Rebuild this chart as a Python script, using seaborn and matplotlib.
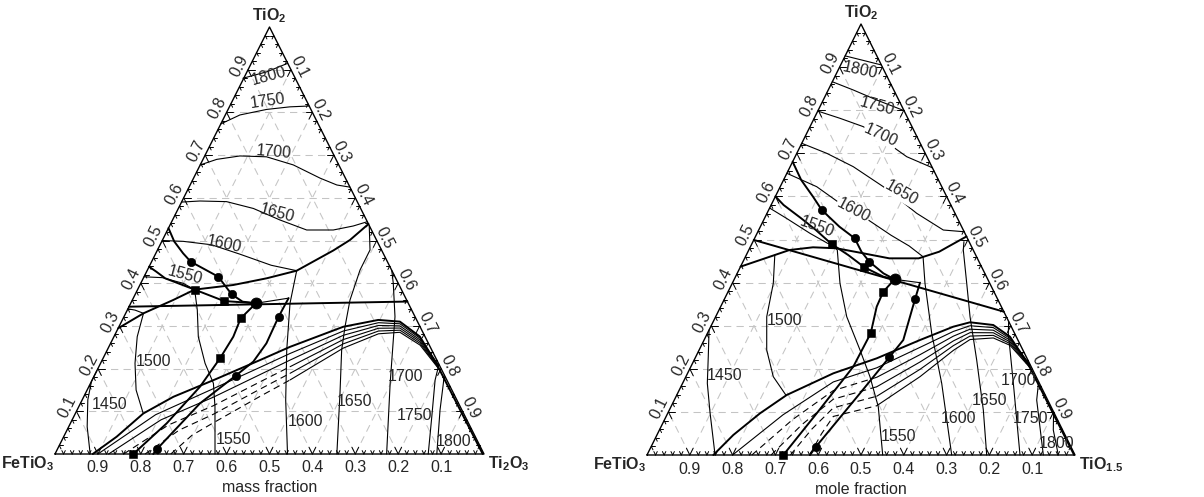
import numpy as np
import matplotlib
matplotlib.use("Agg")
import matplotlib.pyplot as plt
import seaborn as sns

# Compositions are given as (FeTiO3 fraction, TiO2 fraction); third component = rest.
# ---------------- LEFT: mass fraction FeTiO3 - Ti2O3 - TiO2 ----------------
m_1800 = [(0.122, 0.880), (0.059, 0.895), (0.0, 0.915)]
m_1750 = [(0.227, 0.773), (0.172, 0.794), (0.103, 0.807), (0.046, 0.813), (0.0, 0.815)]
m_1700 = [(0.323, 0.677), (0.278, 0.690), (0.220, 0.698), (0.159, 0.696), (0.106, 0.677),
          (0.059, 0.646), (0.028, 0.630), (0.0, 0.625)]
m_1650_up = [(0.41, 0.59), (0.366, 0.5925), (0.3045, 0.591), (0.25, 0.575), (0.2015, 0.548),
             (0.151, 0.5246), (0.089, 0.5246), (0.0377, 0.534), (0.0, 0.544)]
m_1600_up = [(0.5, 0.5), (0.452, 0.498), (0.39, 0.49), (0.335, 0.468), (0.275, 0.442), (0.222, 0.4293)]
m_1550_up = [(0.585, 0.415), (0.5435, 0.413), (0.5015, 0.3998), (0.482, 0.385)]
m_1550_low = [(0.482, 0.385), (0.4997, 0.3372), (0.5286, 0.2747), (0.544, 0.2124), (0.548, 0.1655),
              (0.5716, 0.111), (0.627, 0.0)]
m_1500 = [(0.629, 0.3295), (0.671, 0.2747), (0.7073, 0.2124), (0.736, 0.1499), (0.7465, 0.097)]
m_1450 = [(0.918, 0.0), (0.893, 0.064), (0.86, 0.127), (0.83, 0.17), (0.805, 0.195)]
m_1600_low = [(0.222, 0.4293), (0.2757, 0.353), (0.338, 0.2436), (0.399, 0.1265), (0.458, 0.0)]
m_1650_low = [(0.0, 0.535), (0.0268, 0.4778), (0.0735, 0.4309), (0.132, 0.3607), (0.175, 0.298),
              (0.21, 0.2436), (0.2647, 0.142), (0.343, 0.0)]
m_1700_low = [(0.0, 0.43), (0.0115, 0.40), (0.0467, 0.3216), (0.136, 0.1655), (0.227, 0.0)]
m_1750_low = [(0.0, 0.21), (0.0275, 0.173), (0.078, 0.0874), (0.13, 0.0)]
m_1800_low = [(0.0, 0.185), (0.012, 0.1655), (0.051, 0.103), (0.11, 0.0)]
m_boundary = [(0.7056, 0.2944), (0.629, 0.3295), (0.544, 0.3607), (0.482, 0.385), (0.3865, 0.3958),
              (0.3008, 0.4115), (0.222, 0.4293), (0.113, 0.4766), (0.0618, 0.5012), (0.0, 0.5386)]
m_straight = [(0.655, 0.345), (0.0, 0.357)]
m_short = [(0.66, 0.34), (0.645, 0.337), (0.629, 0.3295)]
m_L1 = [(0.471, 0.529), (0.4732, 0.4977), (0.4664, 0.47), (0.4585, 0.4504), (0.4117, 0.4152),
        (0.4013, 0.374), (0.3844, 0.3567), (0.355, 0.353)]
m_L2 = [(0.5613, 0.4387), (0.5504, 0.427), (0.5374, 0.4114), (0.482, 0.385), (0.427, 0.3583), (0.355, 0.353)]
m_sq_line = [(0.355, 0.353), (0.4082, 0.3178), (0.447, 0.2747), (0.5033, 0.2241), (0.5832, 0.1576),
             (0.7036, 0.0719), (0.8175, 0.0)]
m_apex_top = [(0.355, 0.353), (0.273, 0.365)]
m_apex_line = [(0.273, 0.365), (0.318, 0.3215), (0.3776, 0.2592), (0.4297, 0.2162), (0.4871, 0.1834),
               (0.6026, 0.1187), (0.7553, 0.0124), (0.771, 0.0)]
m_circles = [(0.4585, 0.4504), (0.4117, 0.4152), (0.4013, 0.374), (0.318, 0.3215), (0.4871, 0.1834), (0.7553, 0.0124)]
m_bigdot = [(0.355, 0.353)]
m_squares = [(0.482, 0.385), (0.427, 0.3583), (0.4082, 0.3178), (0.5033, 0.2241), (0.8175, 0.0)]
m_dome = [(0.912, 0.0), (0.836, 0.0405), (0.7465, 0.095), (0.657, 0.134), (0.544, 0.173), (0.412, 0.22),
          (0.3265, 0.251), (0.179, 0.298), (0.0895, 0.314), (0.041, 0.31), (0.012, 0.275), (0.005, 0.21),
          (0.004, 0.1), (0.003, 0.0)]
m_fan1 = [(0.9, 0.0), (0.7195, 0.092), (0.5545, 0.153), (0.4205, 0.203), (0.3342, 0.2355), (0.184, 0.288),
          (0.0922, 0.3075), (0.0435, 0.305), (0.0135, 0.271), (0.002, 0.208)]
m_fan2 = [(0.875, 0.0), (0.713, 0.08), (0.5645, 0.133), (0.429, 0.186), (0.342, 0.22), (0.189, 0.278),
          (0.0955, 0.301), (0.046, 0.30), (0.0155, 0.267), (0.003, 0.206)]
m_fan3 = [(0.84, 0.0), (0.7015, 0.068), (0.5745, 0.113), (0.4375, 0.169), (0.3497, 0.2045), (0.194, 0.268),
          (0.0987, 0.2945), (0.0485, 0.295), (0.0175, 0.263), (0.004, 0.204)]
m_fan4 = [(0.79, 0.0), (0.6825, 0.056), (0.5845, 0.093), (0.446, 0.152), (0.3575, 0.189), (0.199, 0.258),
          (0.102, 0.288), (0.051, 0.29), (0.0195, 0.259), (0.005, 0.202)]
m_fan5 = [(0.73, 0.0), (0.6585, 0.044), (0.5945, 0.073), (0.4545, 0.135), (0.3652, 0.1735), (0.204, 0.248),
          (0.1052, 0.2815), (0.0535, 0.285), (0.0215, 0.255), (0.006, 0.20)]
m_labels = ["1800", "1750", "1700", "1650", "1600", "1550", "1500", "1450",
            "1550", "1600", "1650", "1700", "1750", "1800"]
m_label_pos = [(0.0585, 0.884), (0.09, 0.827), (0.1355, 0.708), (0.2014, 0.5637), (0.36, 0.492),
               (0.487, 0.419), (0.6628, 0.2162), (0.8144, 0.1148), (0.568, 0.0328), (0.3794, 0.0756),
               (0.2395, 0.1225), (0.0936, 0.181), (0.116, 0.0897), (0.057, 0.0288)]
m_label_rot = [15, 8, -5, -15, -12, -15, 0, 0, 0, 0, 0, 0, 0, 0]

# ---------------- RIGHT: mole fraction FeTiO3 - TiO1.5 - TiO2 ----------------
r_1800 = [(0.074, 0.926), (0.035, 0.915), (0.0, 0.905)]
r_1750 = [(0.134, 0.866), (0.0946, 0.8469), (0.0515, 0.8237), (0.0, 0.799)]
r_1700 = [(0.202, 0.798), (0.1585, 0.7812), (0.1137, 0.7618), (0.0825, 0.7309), (0.0471, 0.6921),
          (0.0043, 0.6689), (0.0, 0.666)]
r_1650_up = [(0.2768, 0.7232), (0.2301, 0.70), (0.1835, 0.6689), (0.1366, 0.6225), (0.0895, 0.5608),
             (0.0467, 0.522), (0.0, 0.518)]
r_1600_up = [(0.3464, 0.6536), (0.2922, 0.6225), (0.2571, 0.584), (0.215, 0.55), (0.175, 0.51),
             (0.145, 0.485), (0.125, 0.46)]
r_1600_low = [(0.125, 0.46), (0.1513, 0.3984), (0.1936, 0.2824), (0.2283, 0.1663), (0.2881, 0.0)]
r_1650_low = [(0.012, 0.495), (0.0232, 0.4756), (0.0538, 0.3984), (0.0848, 0.3209), (0.1195, 0.2204),
              (0.162, 0.1044), (0.2063, 0.0)]
r_1700_low = [(0.0, 0.31), (0.0146, 0.2824), (0.0609, 0.1663), (0.1285, 0.0)]
r_1750_low = [(0.0, 0.17), (0.0257, 0.1276), (0.074, 0.0)]
r_1800_low = [(0.0, 0.1), (0.0217, 0.058), (0.039, 0.0)]
r_1550_up = [(0.427, 0.573), (0.3995, 0.5491), (0.362, 0.5143), (0.3324, 0.4911), (0.3241, 0.4896)]
r_1550_low = [(0.3241, 0.4896), (0.3176, 0.4756), (0.3499, 0.3984), (0.3729, 0.3209), (0.3805, 0.2436),
              (0.3882, 0.1817), (0.4036, 0.1121), (0.4493, 0.0)]
r_1500 = [(0.4694, 0.464), (0.5057, 0.3984), (0.5598, 0.3209), (0.5985, 0.2436), (0.6141, 0.1817), (0.606, 0.1392)]
r_1450 = [(0.71, 0.29), (0.7428, 0.2281), (0.7759, 0.1663), (0.8033, 0.099), (0.841, 0.0)]
r_boundary = [(0.563, 0.437), (0.4694, 0.464), (0.4293, 0.4756), (0.3712, 0.4819), (0.3174, 0.4796),
              (0.2676, 0.4694), (0.2057, 0.4563), (0.137, 0.4563), (0.0814, 0.4717), (0.0548, 0.4833), (0.0, 0.507)]
r_straight = [(0.501, 0.499), (0.0, 0.3325)]
r_L1 = [(0.3195, 0.6805), (0.3207, 0.638), (0.3124, 0.5993), (0.3074, 0.5684), (0.2856, 0.5297),
        (0.2633, 0.5028), (0.2631, 0.4717), (0.2563, 0.4485), (0.2369, 0.4215), (0.2177, 0.4076)]
r_L2 = [(0.4, 0.6), (0.3908, 0.58), (0.3651, 0.5491), (0.3444, 0.522), (0.3241, 0.4896), (0.2979, 0.464),
        (0.2743, 0.4355), (0.2408, 0.4137), (0.2177, 0.4076)]
r_sq_line = [(0.2177, 0.4076), (0.2585, 0.3789), (0.2913, 0.3441), (0.3361, 0.2824), (0.4156, 0.2049),
             (0.5551, 0.0967), (0.6815, 0.0)]
r_apex_top = [(0.2177, 0.4076), (0.1622, 0.3998)]
r_apex_line = [(0.1622, 0.3998), (0.1932, 0.3613), (0.2678, 0.2668), (0.3205, 0.2267), (0.4307, 0.1432),
               (0.5955, 0.0193), (0.6192, 0.0)]
r_circles = [(0.3074, 0.5684), (0.2633, 0.5028), (0.2563, 0.4485), (0.1932, 0.3613), (0.3205, 0.2267), (0.5955, 0.0193)]
r_bigdot = [(0.2177, 0.4076)]
r_squares = [(0.3241, 0.4896), (0.2743, 0.4355), (0.2585, 0.3789), (0.3361, 0.2824), (0.6815, 0.0)]
r_dome = [(0.845, 0.0), (0.7752, 0.0464), (0.6876, 0.0967), (0.604, 0.1392), (0.4699, 0.1895), (0.3511, 0.2243),
          (0.2287, 0.2668), (0.1355, 0.2977), (0.0913, 0.3079), (0.0401, 0.3016), (0.0147, 0.2745),
          (0.004, 0.2128), (0.003, 0.1), (0.002, 0.0)]
r_fan1 = [(0.8, 0.0), (0.6357, 0.0932), (0.48, 0.1695), (0.3621, 0.2023), (0.2372, 0.2498), (0.1409, 0.2867),
          (0.0953, 0.2999), (0.0431, 0.2956), (0.0166, 0.2705), (0.001, 0.2108)]
r_fan2 = [(0.755, 0.0), (0.6187, 0.0822), (0.4899, 0.1495), (0.3731, 0.1803), (0.2457, 0.2328), (0.1464, 0.2757),
          (0.0993, 0.2919), (0.0461, 0.2896), (0.0186, 0.2665), (0.001, 0.2088)]
r_fan3 = [(0.71, 0.0), (0.6017, 0.0712), (0.4999, 0.1295), (0.3841, 0.1583), (0.2542, 0.2158), (0.1519, 0.2647),
          (0.1033, 0.2839), (0.0491, 0.2836), (0.0206, 0.2625), (0.002, 0.2068)]
r_fan4 = [(0.665, 0.0), (0.5847, 0.0602), (0.5099, 0.1095), (0.3951, 0.1363), (0.2627, 0.1988), (0.1574, 0.2537),
          (0.1073, 0.2759), (0.0521, 0.2776), (0.0226, 0.2585), (0.003, 0.2048)]
r_fan5 = [(0.62, 0.0), (0.5677, 0.0492), (0.5199, 0.0895), (0.4061, 0.1143), (0.2712, 0.1818), (0.1629, 0.2427),
          (0.1113, 0.2679), (0.0551, 0.2716), (0.0246, 0.2545), (0.004, 0.2028)]
r_labels = ["1800", "1750", "1700", "1650", "1600", "1550", "1500", "1450",
            "1550", "1600", "1650", "1700", "1750", "1800"]
r_label_pos = [(0.0565, 0.8917), (0.059, 0.8082), (0.0821, 0.7425), (0.1013, 0.6072), (0.2338, 0.5684),
               (0.3386, 0.5297), (0.521, 0.3132), (0.725, 0.1856), (0.3916, 0.0425), (0.23, 0.0852),
               (0.1348, 0.1276), (0.0455, 0.174), (0.0625, 0.0852), (0.029, 0.0271)]
r_label_rot = [-12, -15, -25, -30, -28, -20, 0, 0, 0, 0, 0, 0, 0, 0]
r_label_box = [False, False, True, True, True, False, False, False, False, False, False, False, False, False]

tick_values = [0.1, 0.2, 0.3, 0.4, 0.5, 0.6, 0.7, 0.8, 0.9]
tick_labels = ["0.1", "0.2", "0.3", "0.4", "0.5", "0.6", "0.7", "0.8", "0.9"]

# ---------------- style ----------------
sns.set_theme(style="white")
plt.rcParams["font.family"] = ["Liberation Sans", "DejaVu Sans"]
plt.rcParams["mathtext.fontset"] = "custom"
plt.rcParams["mathtext.rm"] = "Liberation Sans"
plt.rcParams["mathtext.bf"] = "Liberation Sans:bold"
FS = 11.5
THIN, THICK = 0.8, 1.4


def tern(pts):
    a = np.array([p[0] for p in pts], float)
    c = np.array([p[1] for p in pts], float)
    return 1.0 - a - c / 2.0, c


def curve(ax, pts, lw=THIN, ls="-"):
    x, y = tern(pts)
    sns.lineplot(x=x, y=y, sort=False, estimator=None, color="black", lw=lw,
                 linestyle=ls, ax=ax, legend=False)


def fan(ax, pts, a_split):
    dashed = [p for p in pts if p[0] >= a_split]
    solid = [p for p in pts if p[0] <= a_split]
    if dashed:
        solid = [dashed[-1]] + solid
        curve(ax, dashed, lw=THIN, ls=(0, (6, 4)))
    curve(ax, solid, lw=THIN)


def frame(ax, rot):
    ax.set_xlim(0, 1)
    ax.set_ylim(0, 1)
    ax.axis("off")
    grid_kw = dict(color="#c4c4c4", lw=0.75, dashes=(7, 5), zorder=0)
    for v in tick_values:
        for seg in ([(1 - v, v), (0, v)], [(v, 0), (v, 1 - v)], [(1 - v, 0), (0, 1 - v)]):
            x, y = tern(seg)
            ax.plot(x, y, **grid_kw)
    for i in range(1, 50):
        t = i / 50
        L = 0.016 if i % 5 == 0 else 0.008
        segs = [[(t, 0), (t, L)], [(t, 0), (t - L, L)],
                [(1 - t, t), (1 - t - L, t)], [(1 - t, t), (1 - t, t - L)],
                [(0, 1 - t), (L, 1 - t)], [(0, 1 - t), (L, 1 - t - L)]]
        for seg in segs:
            x, y = tern(seg)
            ax.plot(x, y, color="black", lw=0.7, zorder=3)
    x, y = tern([(1, 0), (0, 0), (0, 1), (1, 0)])
    ax.plot(x, y, color="black", lw=1.0, zorder=4)
    for v, lab in zip(tick_values, tick_labels):
        x, y = tern([(v, 0)])
        ax.annotate(lab, (x[0], y[0]), xytext=(0, -14), textcoords="offset pixels",
                    ha="center", va="center", fontsize=FS)
        x, y = tern([(1 - v, v)])
        ax.annotate(lab, (x[0], y[0]), xytext=(-9, 4), textcoords="offset pixels",
                    ha="center", va="center", fontsize=FS, rotation=rot, rotation_mode="anchor")
        x, y = tern([(0, 1 - v)])
        ax.annotate(lab, (x[0], y[0]), xytext=(8, 3), textcoords="offset pixels",
                    ha="center", va="center", fontsize=FS, rotation=-rot, rotation_mode="anchor")


def labels(ax, texts, pos, rots, boxes=None):
    for i, (t, p, r) in enumerate(zip(texts, pos, rots)):
        x, y = tern([p])
        kw = {}
        if boxes is not None and boxes[i]:
            kw["bbox"] = dict(facecolor="white", edgecolor="none", pad=0.3)
        ax.text(x[0], y[0], t, ha="center", va="center", fontsize=FS, rotation=r,
                rotation_mode="anchor", zorder=6, **kw)


def markers(ax, circles, bigdot, squares):
    x, y = tern(circles)
    sns.scatterplot(x=x, y=y, ax=ax, color="black", marker="o", s=36, edgecolor="black", zorder=7, legend=False)
    x, y = tern(bigdot)
    sns.scatterplot(x=x, y=y, ax=ax, color="black", marker="o", s=62, edgecolor="black", zorder=7, legend=False)
    x, y = tern(squares)
    sns.scatterplot(x=x, y=y, ax=ax, color="black", marker="s", s=26, edgecolor="black", zorder=7, legend=False)


fig = plt.figure(figsize=(12.04, 4.97), dpi=100)
axL = fig.add_axes([55 / 1204, 43 / 497, 429 / 1204, 427 / 497])
axR = fig.add_axes([647 / 1204, 42 / 497, 428 / 1204, 431 / 497])

# ---- left ----
frame(axL, 63.3)
for pts in (m_1800, m_1750, m_1700, m_1650_up, m_1600_up, m_1550_up, m_1550_low, m_1500, m_1450,
            m_1600_low, m_1650_low, m_1700_low, m_1750_low, m_1800_low, m_short, m_apex_top):
    curve(axL, pts)
for pts in (m_boundary, m_straight, m_L1, m_L2, m_sq_line, m_apex_line, m_dome):
    curve(axL, pts, lw=THICK)
curve(axL, m_fan1)
curve(axL, m_fan2)
for pts in (m_fan3, m_fan4, m_fan5):
    fan(axL, pts, 0.34)
markers(axL, m_circles, m_bigdot, m_squares)
labels(axL, m_labels, m_label_pos, m_label_rot)

# ---- right ----
frame(axR, 63.6)
for pts in (r_1800, r_1750, r_1700, r_1650_up, r_1600_up, r_1600_low, r_1650_low, r_1700_low, r_1750_low,
            r_1800_low, r_1550_up, r_1550_low, r_1500, r_1450, r_apex_top):
    curve(axR, pts)
for pts in (r_boundary, r_straight, r_L1, r_L2, r_sq_line, r_apex_line, r_dome):
    curve(axR, pts, lw=THICK)
curve(axR, r_fan1)
for pts in (r_fan2, r_fan3, r_fan4, r_fan5):
    fan(axR, pts, 0.30)
markers(axR, r_circles, r_bigdot, r_squares)
labels(axR, r_labels, r_label_pos, r_label_rot, r_label_box)

# ---- vertex labels and axis titles ----
vert_kw = dict(textcoords="offset pixels", va="center", fontsize=FS)
axL.annotate(r"$\mathbf{FeTiO_3}$", (0, 0), xytext=(-1, -10), ha="right", **vert_kw)
axL.annotate(r"$\mathbf{Ti_2O_3}$", (1, 0), xytext=(4, -10), ha="left", **vert_kw)
axL.annotate(r"$\mathbf{TiO_2}$", (0.5, 1), xytext=(0, 11), ha="center", **vert_kw)
axL.annotate("mass fraction", (0.5, 0), xytext=(0, -34), ha="center", **vert_kw)
axR.annotate(r"$\mathbf{FeTiO_3}$", (0, 0), xytext=(-1, -10), ha="right", **vert_kw)
axR.annotate(r"$\mathbf{TiO_{1.5}}$", (1, 0), xytext=(4, -10), ha="left", **vert_kw)
axR.annotate(r"$\mathbf{TiO_2}$", (0.5, 1), xytext=(0, 11), ha="center", **vert_kw)
axR.annotate("mole fraction", (0.5, 0), xytext=(0, -34), ha="center", **vert_kw)

for ax in (axL, axR):
    for art in ax.get_children():
        try:
            art.set_clip_on(False)
        except Exception:
            pass

fig.savefig("out.png", dpi=100)
